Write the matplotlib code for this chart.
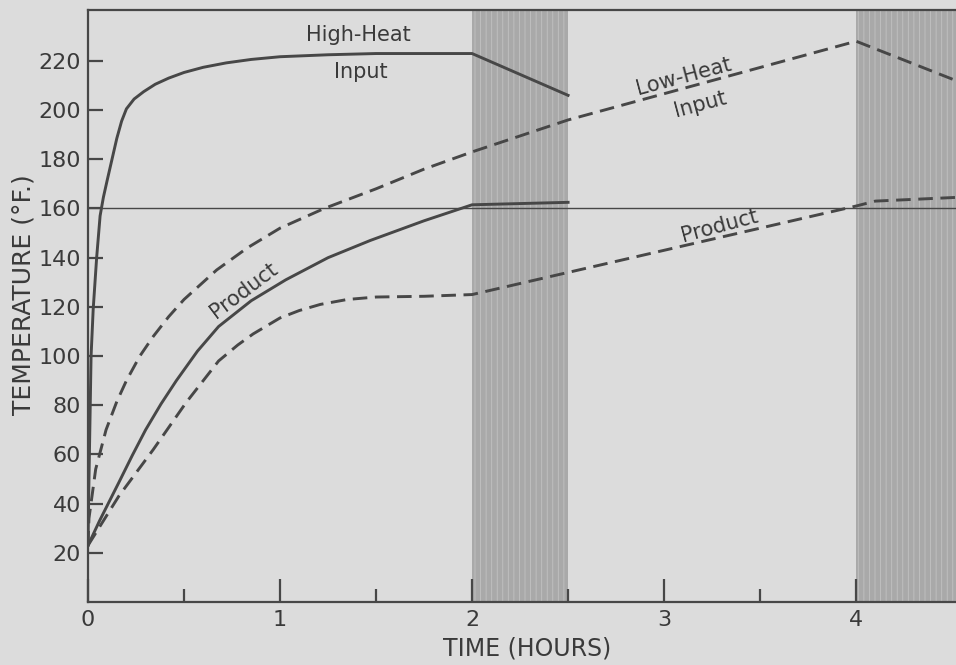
import matplotlib
matplotlib.use("Agg")
import matplotlib.pyplot as plt

# readings from the scanned chart: time in hours, temperature in deg F
hh_input_t = [0, 0.004, 0.016, 0.027, 0.045, 0.063, 0.08, 0.1, 0.125, 0.15, 0.175, 0.2, 0.24, 0.29, 0.35,
              0.42, 0.5, 0.6, 0.72, 0.85, 1.0, 1.25, 1.5, 2.0, 2.5]
hh_input_v = [23, 45, 100, 119, 140, 157, 164.5, 171.5, 180, 188.5, 195.5, 200.5, 204.5, 207.5, 210.5,
              213, 215.3, 217.4, 219.2, 220.6, 221.7, 222.5, 223, 223, 206]

hh_product_t = [0, 0.06, 0.16, 0.23, 0.30, 0.38, 0.46, 0.57, 0.68, 0.85, 1.03, 1.25, 1.47, 1.75, 2.0, 2.5]
hh_product_v = [23, 33, 48.5, 59.5, 70, 80.5, 90, 102, 112, 122.5, 131, 140, 147, 155, 161.5, 162.5]

lh_input_t = [0, 0.005, 0.04, 0.094, 0.15, 0.2, 0.27, 0.34, 0.42, 0.5, 0.67, 0.83, 1.0, 1.23, 1.5, 1.75, 2.0, 2.5, 4.0, 4.52]
lh_input_v = [23, 34, 54, 70, 81.5, 90, 100, 108, 116, 123, 135, 144, 152, 160, 168, 176, 183, 196, 228, 212]

lh_product_t = [0, 0.04, 0.16, 0.34, 0.51, 0.68, 0.78, 0.86, 1.0, 1.1, 1.21, 1.35, 1.5, 1.75, 2.0, 4.0, 4.1, 4.52]
lh_product_v = [23, 28, 43, 62, 81, 98, 104.5, 109, 115.5, 118.5, 121, 123, 124, 124.3, 125, 161, 163, 164.5]

shaded_spans = [(2.0, 2.5), (4.0, 4.6)]
y_ticks = list(range(20, 221, 20))
x_ticks = [0, 1, 2, 3, 4]
x_minor = [0.5, 1.5, 2.5, 3.5]

ink = "#474747"
txt = "#3a3a3a"
paper = "#dcdcdc"

plt.rcParams["font.family"] = ["DejaVu Sans"]
plt.rcParams["hatch.linewidth"] = 0.6

fig = plt.figure(figsize=(9.56, 6.65), dpi=100)
fig.patch.set_facecolor(paper)
ax = fig.add_axes([88 / 956, 63 / 665, 868 / 956, 592 / 665])
ax.set_facecolor(paper)

for a, b in shaded_spans:
    ax.axvspan(a, b, facecolor="#a9a9a9", edgecolor="#c2c2c2", hatch="|||", lw=0, zorder=0)

ax.axhline(160, color=ink, lw=1.0, zorder=1)

ax.plot(hh_input_t, hh_input_v, color=ink, lw=2.1, zorder=3)
ax.plot(hh_product_t, hh_product_v, color=ink, lw=2.1, zorder=3)
ax.plot(lh_input_t, lh_input_v, color=ink, lw=2.1, dashes=(5, 2.6), zorder=3)
ax.plot(lh_product_t, lh_product_v, color=ink, lw=2.1, dashes=(5, 2.6), zorder=3)

ax.set_xlim(0, 4.52)
ax.set_ylim(0, 240.7)

ax.spines["right"].set_visible(False)
for s in ["left", "bottom", "top"]:
    ax.spines[s].set_color(ink)
    ax.spines[s].set_linewidth(1.6)

ax.set_yticks(y_ticks)
ax.set_xticks(x_ticks)
ax.set_xticks(x_minor, minor=True)
ax.tick_params(axis="y", direction="in", length=11, width=1.6, color=ink,
               labelsize=16, labelcolor=txt, pad=5)
ax.tick_params(axis="x", which="major", direction="in", length=16.5, width=1.6, color=ink,
               labelsize=16, labelcolor=txt, pad=6)
ax.tick_params(axis="x", which="minor", direction="in", length=9.5, width=1.6, color=ink)

ax.set_ylabel("TEMPERATURE (°F.)", fontsize=18, color=txt)
ax.yaxis.set_label_coords(-0.06, 0.519)
ax.set_xlabel("TIME (HOURS)", fontsize=17, color=txt)
ax.xaxis.set_label_coords(0.506, -0.0575)

ax.text(1.41, 230.5, "High-Heat", fontsize=15, color=txt, ha="center", va="center")
ax.text(1.42, 215.5, "Input", fontsize=15, color=txt, ha="center", va="center")
ax.text(3.1, 213.5, "Low-Heat", fontsize=15, color=txt, ha="center", va="center", rotation=15)
ax.text(3.19, 202.5, "Input", fontsize=15, color=txt, ha="center", va="center", rotation=15)
ax.text(0.81, 126.5, "Product", fontsize=15, color=txt, ha="center", va="center", rotation=37)
ax.text(3.29, 153, "Product", fontsize=15, color=txt, ha="center", va="center", rotation=15)

fig.savefig("out.png", dpi=100, facecolor=paper)
